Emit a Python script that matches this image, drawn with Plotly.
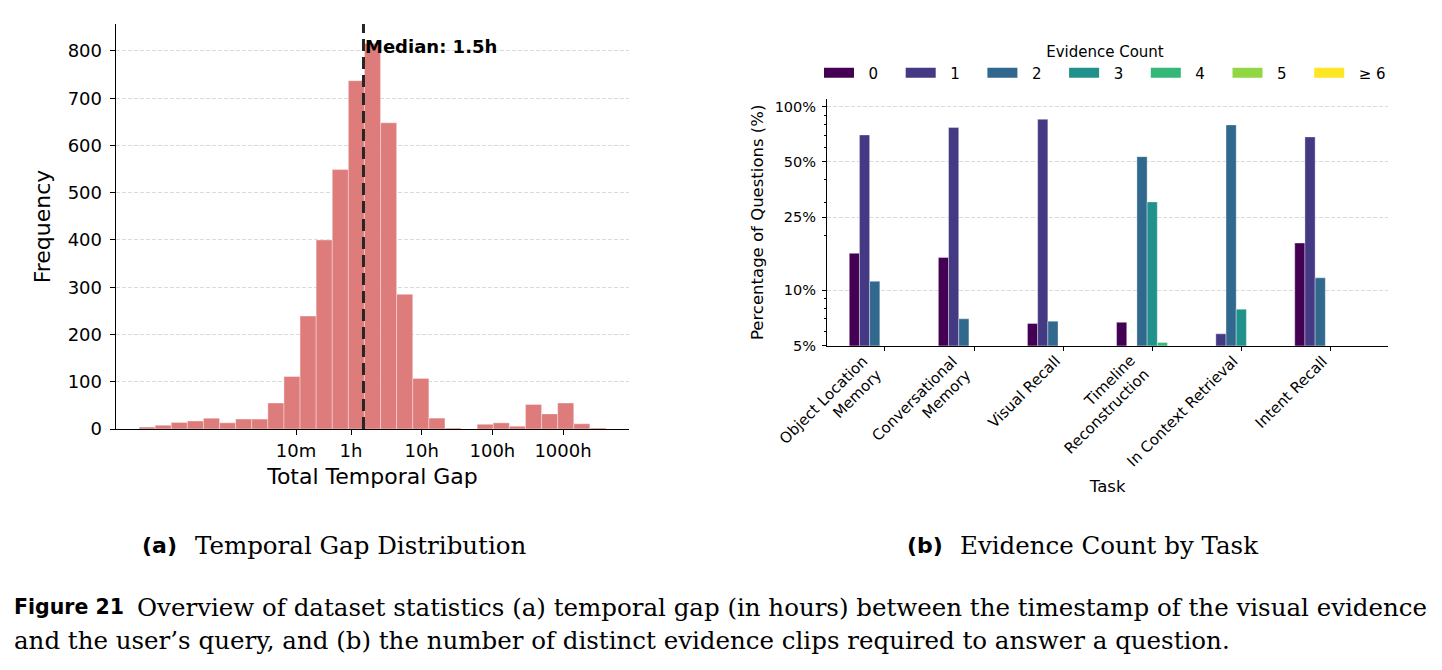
import numpy as np
import plotly.graph_objects as go

# ---------------- data: (a) temporal gap histogram ----------------
gap_min_hours = 0.001
gap_max_hours = 4050.0
gap_counts = [4, 8, 14, 17, 23, 13, 21, 21, 55, 111, 239, 400, 549, 737, 816,
              648, 285, 107, 23, 2, 0, 10, 13, 6, 52, 32, 55, 11, 2]
median_hours = 1.5
gap_tick_hours = [1 / 6, 1, 10, 100, 1000]
gap_tick_labels = ["10m", "1h", "10h", "100h", "1000h"]
freq_ticks = [0, 100, 200, 300, 400, 500, 600, 700, 800]

# ---------------- data: (b) evidence count by task ----------------
tasks = ["Object Location Memory", "Conversational Memory", "Visual Recall",
         "Timeline Reconstruction", "In Context Retrieval", "Intent Recall"]
task_tick_labels = ["Object Location<br>Memory", "Conversational<br>Memory", "Visual Recall",
                    "Timeline<br>Reconstruction", "In Context Retrieval", "Intent Recall"]
evidence_labels = ["0", "1", "2", "3", "4", "5", "\u2265 6"]
ev0 = [15.9, 15.1, 6.6, 6.7, 1.5, 18.1]
ev1 = [70.1, 76.9, 85.3, 2.5, 5.8, 68.4]
ev2 = [11.2, 7.0, 6.8, 53.4, 79.5, 11.7]
ev3 = [2.0, 0.8, 1.0, 30.3, 7.9, 1.5]
ev4 = [0.5, 0.2, 0.3, 5.2, 3.5, 0.3]
ev5 = [0.2, 0.05, 0.05, 1.5, 1.0, 0.05]
ev6 = [0.1, 0.05, 0.05, 0.4, 0.3, 0.05]
evidence_series = [ev0, ev1, ev2, ev3, ev4, ev5, ev6]
viridis7 = ["#440154", "#443983", "#31688e", "#21918c", "#35b779", "#90d743", "#fde725"]
pct_ticks = [5, 10, 25, 50, 100]
pct_tick_labels = ["5%", "10%", "25%", "50%", "100%"]
pct_minor = [6, 7, 8, 9, 20, 30, 40, 60, 70, 80, 90]

W, H = 1442, 670
def px(x):
    return x / W
def py(y):
    return 1 - y / H

# histogram bins (log-spaced)
edges = np.linspace(np.log10(gap_min_hours), np.log10(gap_max_hours), len(gap_counts) + 1)
centers = (edges[:-1] + edges[1:]) / 2
bw = edges[1] - edges[0]
span = edges[-1] - edges[0]

fig = go.Figure()
fig.add_trace(go.Bar(
    x=centers, y=gap_counts, width=bw,
    marker=dict(color="#de7c7c", line=dict(color="rgba(255,255,255,0.45)", width=0.8)),
    xaxis="x", yaxis="y", showlegend=False,
))

for lab, vals, col in zip(evidence_labels, evidence_series, viridis7):
    fig.add_trace(go.Bar(
        x=tasks, y=vals, name=lab,
        marker=dict(color=col, line=dict(color="rgba(255,255,255,0.6)", width=0.6)),
        xaxis="x2", yaxis="y2", showlegend=False,
    ))
    fig.add_trace(go.Scatter(
        x=[None], y=[None], mode="lines", name="\u00a0\u00a0" + lab,
        line=dict(color=col, width=10),
        xaxis="x2", yaxis="y2", showlegend=True,
    ))

font_family = "DejaVu Sans"
grid_col = "#dadada"

fig.update_layout(
    width=W, height=H,
    margin=dict(l=0, r=0, t=0, b=0, autoexpand=False),
    paper_bgcolor="white", plot_bgcolor="white",
    font=dict(family=font_family, color="black"),
    barmode="group", bargap=0.2, bargroupgap=0,
    showlegend=True,
    xaxis=dict(
        domain=[px(115.7), px(629.3)], automargin=False,
        range=[edges[0] - 0.05 * span, edges[-1] + 0.05 * span],
        tickmode="array", tickvals=list(np.log10(gap_tick_hours)), ticktext=gap_tick_labels,
        ticks="outside", ticklen=5, tickwidth=1, tickcolor="black",
        showline=True, linecolor="black", linewidth=1.2,
        showgrid=False, zeroline=False,
        tickfont=dict(size=18),
        title=dict(text="Total Temporal Gap", font=dict(size=22), standoff=8),
    ),
    yaxis=dict(
        domain=[py(429), py(24)], automargin=False,
        range=[0, 857],
        tickmode="array", tickvals=freq_ticks,
        ticks="outside", ticklen=5, tickwidth=1, tickcolor="black",
        ticklabelstandoff=4,
        showline=True, linecolor="black", linewidth=1.2,
        showgrid=True, gridcolor=grid_col, griddash="4px,2px", gridwidth=1,
        zeroline=False,
        tickfont=dict(size=18),
        title=dict(text="Frequency", font=dict(size=22), standoff=10),
    ),
    xaxis2=dict(
        domain=[px(827), px(1388.3)], automargin=False,
        range=[-0.65, 5.65],
        type="category", categoryorder="array", categoryarray=tasks,
        ticks="outside", ticklen=4, tickwidth=1, tickcolor="black",
        showticklabels=False,
        showline=True, linecolor="black", linewidth=1,
        showgrid=False, zeroline=False,
        title=dict(text="Task", font=dict(size=16.5), standoff=130),
        anchor="y2",
    ),
    yaxis2=dict(
        domain=[py(345.7), py(99)], automargin=False,
        type="log", range=[np.log10(5), np.log10(110)],
        tickmode="array", tickvals=pct_ticks, ticktext=pct_tick_labels,
        ticks="outside", ticklen=4, tickwidth=1, tickcolor="black",
        ticklabelstandoff=3,
        minor=dict(tickmode="array", tickvals=pct_minor, ticks="outside", ticklen=2,
                   tickwidth=0.8, tickcolor="black", showgrid=False),
        showline=True, linecolor="black", linewidth=1,
        showgrid=True, gridcolor=grid_col, griddash="4px,2px", gridwidth=1,
        zeroline=False,
        tickfont=dict(size=14.5),
        title=dict(text="Percentage of Questions (%)", font=dict(size=16.5), standoff=6),
        anchor="x2",
    ),
    legend=dict(
        orientation="h", x=px(819), xanchor="left", y=py(37), yanchor="top",
        font=dict(size=15), bgcolor="rgba(0,0,0,0)",
        title=dict(text="Evidence Count", side="top center", font=dict(size=15)),
        entrywidth=36.7, entrywidthmode="pixels", itemwidth=30,
        traceorder="normal",
    ),
)

# rotated category labels (right-aligned block, top-right corner at the tick)
for cat, lab in zip(tasks, task_tick_labels):
    fig.add_annotation(xref="x2", yref="y2 domain", x=cat, y=0, text=lab,
                       showarrow=False, textangle=-45, xanchor="right", yanchor="top",
                       align="right", yshift=-5, xshift=2, borderpad=0,
                       font=dict(size=15, family=font_family, color="black"))

# median line
fig.add_shape(type="line", xref="x", yref="y domain",
              x0=np.log10(median_hours), x1=np.log10(median_hours), y0=0, y1=1,
              line=dict(color="#262626", width=3, dash="12px,6px"))
fig.add_annotation(xref="x", yref="y", x=np.log10(median_hours), y=810,
                   text="<b>Median: %gh</b>" % median_hours, showarrow=False,
                   xanchor="left", yanchor="middle", xshift=0,
                   font=dict(size=18, family=font_family, color="black"))

# captions
sans_bold = "DejaVu Sans"
serif = "DejaVu Serif"
caps = [
    ("<b>(a)</b>", 140, 545, sans_bold, 22),
    ("Temporal Gap Distribution", 193, 545, serif, 24.5),
    ("<b>(b)</b>", 905, 545, sans_bold, 22),
    ("Evidence Count by Task", 958, 545, serif, 24.5),
    ("<b>Figure 21</b>", 12, 607, sans_bold, 20.5),
    ("Overview of dataset statistics (a) temporal gap (in hours) between the timestamp of the visual evidence",
     135, 607, serif, 24.5),
    ("and the user\u2019s query, and (b) the number of distinct evidence clips required to answer a question.",
     12, 640, serif, 24.5),
]
for txt, x, y, fam, size in caps:
    fig.add_annotation(xref="paper", yref="paper", x=px(x), y=py(y), text=txt,
                       showarrow=False, xanchor="left", yanchor="middle",
                       font=dict(family=fam, size=size, color="black"))

fig.write_html("out.html")
